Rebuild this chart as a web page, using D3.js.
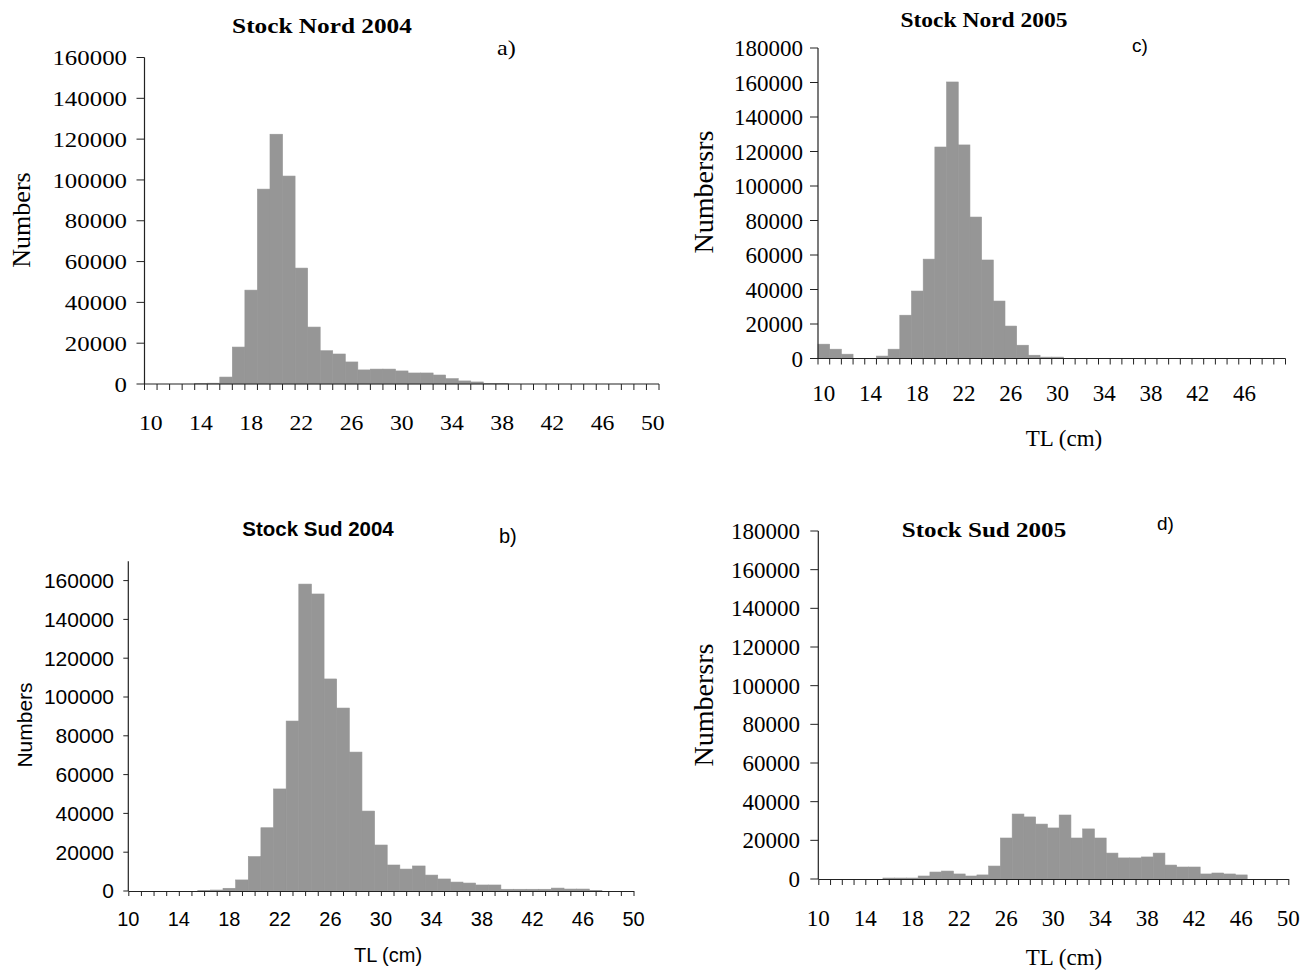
<!DOCTYPE html>
<html>
<head>
<meta charset="utf-8">
<script src="https://cdn.jsdelivr.net/npm/d3@7"></script>
<style>
  html, body { margin: 0; padding: 0; background: #fff; }
  svg { display: block; }
</style>
</head>
<body>
<svg id="chart" width="1316" height="972"></svg>
<script>
// ---------------- DATA ----------------
// a) Stock Nord 2004 : category axis (10..50)
const catsNord2004 = [10,11,12,13,14,15,16,17,18,19,20,21,22,23,24,25,26,27,28,29,30,31,32,33,34,35,36,37,38,39,40,41,42,43,44,45,46,47,48,49,50];
const valsNord2004 = [0,0,0,0,300,400,3400,18100,46000,95500,122400,101900,56800,27900,16300,14700,10800,6900,7300,7300,6400,5400,5400,4400,2600,1500,1000,300,300,0,0,0,0,0,0,0,0,0,0,0,0];
const ticksNord2004 = [10,14,18,22,26,30,34,38,42,46,50];

// c) Stock Nord 2005 : category axis (10..49)
const catsNord2005 = [10,11,12,13,14,15,16,17,18,19,20,21,22,23,24,25,26,27,28,29,30,31,32,33,34,35,36,37,38,39,40,41,42,43,44,45,46,47,48,49];
const valsNord2005 = [8300,5400,2500,0,0,1400,5400,25100,39100,57600,122600,160300,123800,82000,57100,33300,18800,7700,1900,800,800,0,0,0,0,0,0,0,0,0,0,0,0,0,0,0,0,0,0,0];
const ticksNord2005 = [10,14,18,22,26,30,34,38,42,46];

// b) Stock Sud 2004 : numeric axis, bars centred on TL
const tlSud2004 = [16,17,18,19,20,21,22,23,24,25,26,27,28,29,30,31,32,33,34,35,36,37,38,39,40,41,42,43,44,45,46,47];
const valsSud2004 = [200,500,1400,5700,17700,32600,52600,87600,158200,153100,109300,94300,71600,41200,23700,13400,11300,12900,8200,6200,4600,4100,3100,3100,900,900,900,900,1500,1000,1000,300];

// d) Stock Sud 2005 : numeric axis, bars centred on TL
const tlSud2005 = [16,17,18,19,20,21,22,23,24,25,26,27,28,29,30,31,32,33,34,35,36,37,38,39,40,41,42,43,44,45,46];
const valsSud2005 = [500,500,500,1550,3600,4100,2600,1550,2100,6700,21200,33600,32100,28400,26400,33100,21200,25900,21200,13400,10900,10900,11400,13400,7200,6200,6200,2600,3100,2600,2100];

const ticksSud = [10,14,18,22,26,30,34,38,42,46,50];
const yTicks160 = [0,20000,40000,60000,80000,100000,120000,140000,160000];
const yTicks180 = [0,20000,40000,60000,80000,100000,120000,140000,160000,180000];

// ---------------- DRAWING ----------------
const svg = d3.select("#chart");
const BAR = "#969696";
const AX = "#222";
const SERIF = "'Liberation Serif','Times New Roman',serif";
const SANS = "'Liberation Sans',Arial,sans-serif";

// horizontal text with optional horizontal stretch
function htext(g, x, y, str, font, size, anchor, sx, weight) {
  return g.append("text")
    .attr("transform", `translate(${x},${y}) scale(${sx || 1},1)`)
    .attr("text-anchor", anchor || "start")
    .attr("font-family", font).attr("font-size", size)
    .attr("font-weight", weight || "normal")
    .text(str);
}

function panel(cfg) {
  const g = svg.append("g");
  const sx = cfg.sx || 1;
  const y = d3.scaleLinear().domain([0, cfg.yMax]).range([cfg.y0, cfg.yTop]);
  const rows = cfg.cats.map((k, i) => ({k, v: cfg.vals[i]})).filter(d => d.v > 0);
  if (cfg.band) {
    const x = d3.scaleBand().domain(cfg.cats).range([cfg.x0, cfg.x1]).padding(0);
    g.selectAll("rect.bar").data(rows).enter().append("rect")
      .attr("x", d => x(d.k)).attr("width", x.bandwidth())
      .attr("y", d => y(d.v)).attr("height", d => cfg.y0 - y(d.v))
      .attr("fill", BAR).attr("stroke", BAR).attr("stroke-width", 0.6);
    const edges = cfg.cats.map(c => x(c)).concat([cfg.x1]);
    g.append("line").attr("x1", cfg.x0).attr("x2", cfg.x1).attr("y1", cfg.y0).attr("y2", cfg.y0)
      .attr("stroke", AX).attr("stroke-width", 1.2);
    g.selectAll("line.xt").data(edges).enter().append("line")
      .attr("x1", d => d).attr("x2", d => d).attr("y1", cfg.y0).attr("y2", cfg.y0 + cfg.xTickLen)
      .attr("stroke", AX).attr("stroke-width", 1);
    cfg.xTicks.forEach(t => htext(g, x(t) + x.bandwidth() / 2, cfg.xLabelY, t, cfg.tickFont, cfg.tickSize, "middle", sx));
  } else {
    const x = d3.scaleLinear().domain([10, 50]).range([cfg.x0, cfg.x1]);
    g.selectAll("rect.bar").data(rows).enter().append("rect")
      .attr("x", d => x(d.k - 0.5)).attr("width", d => x(d.k + 0.5) - x(d.k - 0.5))
      .attr("y", d => y(d.v)).attr("height", d => cfg.y0 - y(d.v))
      .attr("fill", BAR).attr("stroke", BAR).attr("stroke-width", 0.6);
    const axis = d3.axisBottom(x).tickValues(d3.range(10, 51)).tickSize(cfg.xTickLen).tickSizeOuter(0).tickFormat("");
    const ax = g.append("g").attr("transform", `translate(0,${cfg.y0})`).call(axis);
    ax.select(".domain").attr("stroke", AX).attr("stroke-width", 1.2);
    ax.selectAll(".tick line").attr("stroke", AX);
    cfg.xTicks.forEach(t => htext(g, x(t), cfg.xLabelY, t, cfg.tickFont, cfg.tickSize, "middle", sx));
  }
  // y axis
  g.append("line").attr("x1", cfg.x0).attr("x2", cfg.x0).attr("y1", cfg.y0).attr("y2", y(cfg.yMax))
    .attr("stroke", AX).attr("stroke-width", 1.2);
  g.selectAll("line.yt").data(cfg.yTicks).enter().append("line")
    .attr("x1", cfg.x0 - cfg.yTickLen).attr("x2", cfg.x0).attr("y1", d => y(d)).attr("y2", d => y(d))
    .attr("stroke", AX).attr("stroke-width", 1);
  const ySize = cfg.yTickSize || cfg.tickSize;
  cfg.yTicks.forEach(t => htext(g, cfg.yLabelX, y(t) + ySize * 0.35, t, cfg.tickFont, ySize, "end", sx));
  // titles & labels
  htext(g, cfg.titleX, cfg.titleY, cfg.title, cfg.titleFont, cfg.titleSize, "middle", cfg.titleSx || sx, "bold");
  htext(g, cfg.tagX, cfg.tagY, cfg.tag, cfg.tagFont, cfg.tagSize, "start", cfg.tagSx || 1);
  g.append("text").attr("transform", `translate(${cfg.yTitleX},${cfg.yTitleY}) rotate(-90)`)
    .attr("text-anchor", "middle").attr("font-family", cfg.tickFont).attr("font-size", cfg.yTitleSize)
    .text(cfg.yTitle);
  if (cfg.xTitle) {
    htext(g, cfg.xTitleX, cfg.xTitleY, cfg.xTitle, cfg.tickFont, cfg.xTitleSize, "middle", sx);
  }
}

// a)
panel({
  band: true, cats: catsNord2004, vals: valsNord2004, xTicks: ticksNord2004,
  x0: 144.5, x1: 659, y0: 384, yTop: 57.5, yMax: 160000, yTicks: yTicks160,
  xTickLen: 6, yTickLen: 8, xLabelY: 430, yLabelX: 127,
  tickFont: SERIF, tickSize: 21, yTickSize: 22, sx: 1.13,
  title: "Stock Nord 2004", titleX: 322, titleY: 33, titleFont: SERIF, titleSize: 22, titleSx: 1.15,
  tag: "a)", tagX: 497, tagY: 55, tagFont: SERIF, tagSize: 22, tagSx: 1.1,
  yTitle: "Numbers", yTitleX: 30, yTitleY: 220, yTitleSize: 26
});

// c)
panel({
  band: true, cats: catsNord2005, vals: valsNord2005, xTicks: ticksNord2005,
  x0: 818, x1: 1285.5, y0: 358.5, yTop: 48, yMax: 180000, yTicks: yTicks180,
  xTickLen: 6, yTickLen: 8, xLabelY: 401, yLabelX: 803,
  tickFont: SERIF, tickSize: 23,
  title: "Stock Nord 2005", titleX: 984, titleY: 27, titleFont: SERIF, titleSize: 21, titleSx: 1.12,
  tag: "c)", tagX: 1132, tagY: 52, tagFont: SANS, tagSize: 19,
  yTitle: "Numbersrs", yTitleX: 713, yTitleY: 192, yTitleSize: 28,
  xTitle: "TL (cm)", xTitleX: 1064, xTitleY: 446, xTitleSize: 23
});

// b)
panel({
  band: false, cats: tlSud2004, vals: valsSud2004, xTicks: ticksSud,
  x0: 128.3, x1: 633.5, y0: 891, yTop: 561.2, yMax: 170000, yTicks: yTicks160,
  xTickLen: 5, yTickLen: 5, xLabelY: 926, yLabelX: 114,
  tickFont: SANS, tickSize: 20, yTickSize: 21,
  title: "Stock Sud 2004", titleX: 318, titleY: 536, titleFont: SANS, titleSize: 20.5,
  tag: "b)", tagX: 499, tagY: 543, tagFont: SANS, tagSize: 20,
  yTitle: "Numbers", yTitleX: 32, yTitleY: 725, yTitleSize: 21,
  xTitle: "TL (cm)", xTitleX: 388, xTitleY: 962, xTitleSize: 20
});

// d)
panel({
  band: false, cats: tlSud2005, vals: valsSud2005, xTicks: ticksSud,
  x0: 818.3, x1: 1288.3, y0: 879, yTop: 531, yMax: 180000, yTicks: yTicks180,
  xTickLen: 6, yTickLen: 8, xLabelY: 926, yLabelX: 800,
  tickFont: SERIF, tickSize: 23,
  title: "Stock Sud 2005", titleX: 984, titleY: 537, titleFont: SERIF, titleSize: 22, titleSx: 1.14,
  tag: "d)", tagX: 1157, tagY: 530, tagFont: SANS, tagSize: 19,
  yTitle: "Numbersrs", yTitleX: 713, yTitleY: 705, yTitleSize: 28,
  xTitle: "TL (cm)", xTitleX: 1064, xTitleY: 965, xTitleSize: 23
});
</script>
</body>
</html>
